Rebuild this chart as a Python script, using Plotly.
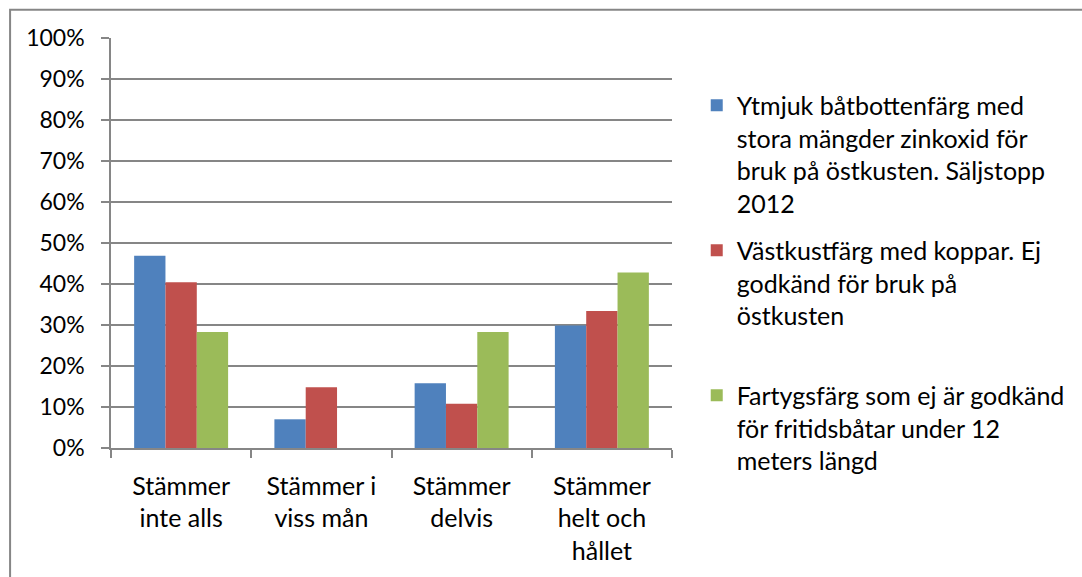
import plotly.graph_objects as go

categories = ["Stämmer<br>inte alls", "Stämmer i<br>viss mån",
              "Stämmer<br>delvis", "Stämmer<br>helt och<br>hållet"]
series_names = [
    "Ytmjuk båtbottenfärg med<br>stora mängder zinkoxid för<br>bruk på östkusten. Säljstopp<br>2012",
    "Västkustfärg med koppar. Ej<br>godkänd för bruk på<br>östkusten<br> ",
    "Fartygsfärg som ej är godkänd<br>för fritidsbåtar under 12<br>meters längd",
]
blue_vals = [0.469, 0.07, 0.158, 0.299]
red_vals = [0.404, 0.148, 0.108, 0.334]
green_vals = [0.283, 0.0, 0.283, 0.428]
colors = ["#4F81BD", "#C0504D", "#9BBB59"]

FONT = "Lato"
W, H = 1082, 577
# plot area in pixels
L, R, T, B = 111, 678, 38, 452

fig = go.Figure()
for name, vals, c in zip(series_names, [blue_vals, red_vals, green_vals], colors):
    fig.add_trace(go.Bar(x=categories, y=vals, name=name, legendgroup=name,
                         marker=dict(color=c, line=dict(width=0))))

# outer chart border (only top and left visible in the picture)
pw, ph = R - L, B - T
fig.add_shape(type="rect", xref="paper", yref="paper",
              x0=(9 - L) / pw, x1=(1095 - L) / pw,
              y0=(B - 595) / ph, y1=(B - 9.5) / ph,
              line=dict(color="#868686", width=2), layer="below")

fig.update_layout(
    width=W, height=H,
    margin=dict(l=L, r=W - R, t=T, b=H - B),
    paper_bgcolor="white", plot_bgcolor="white",
    font=dict(family=FONT, size=25, color="black"),
    barmode="group", bargap=0.33, bargroupgap=0,
    legend=dict(x=1.0 + (703 - R) / pw, y=(B - 83) / ph, xanchor="left", yanchor="top",
                valign="top", tracegroupgap=12, font=dict(size=25),
                bgcolor="rgba(0,0,0,0)"),
    showlegend=True,
)
fig.update_yaxes(range=[0, 1], dtick=0.1, tickformat=".0%",
                 showgrid=True, gridcolor="#868686", gridwidth=1.5,
                 showline=True, linecolor="#868686", linewidth=1.5,
                 ticks="outside", ticklen=8, tickcolor="#868686", tickwidth=1.5,
                 zeroline=False, ticklabelstandoff=12, tickfont=dict(size=23))
fig.update_xaxes(showline=True, linecolor="#868686", linewidth=1.5,
                 ticks="outside", ticklen=8, tickcolor="#868686", tickwidth=1.5,
                 tickson="boundaries", showgrid=False, ticklabelstandoff=15)

fig.write_html("out.html", config={"displayModeBar": False},
               post_script="document.body.style.margin='0';")
